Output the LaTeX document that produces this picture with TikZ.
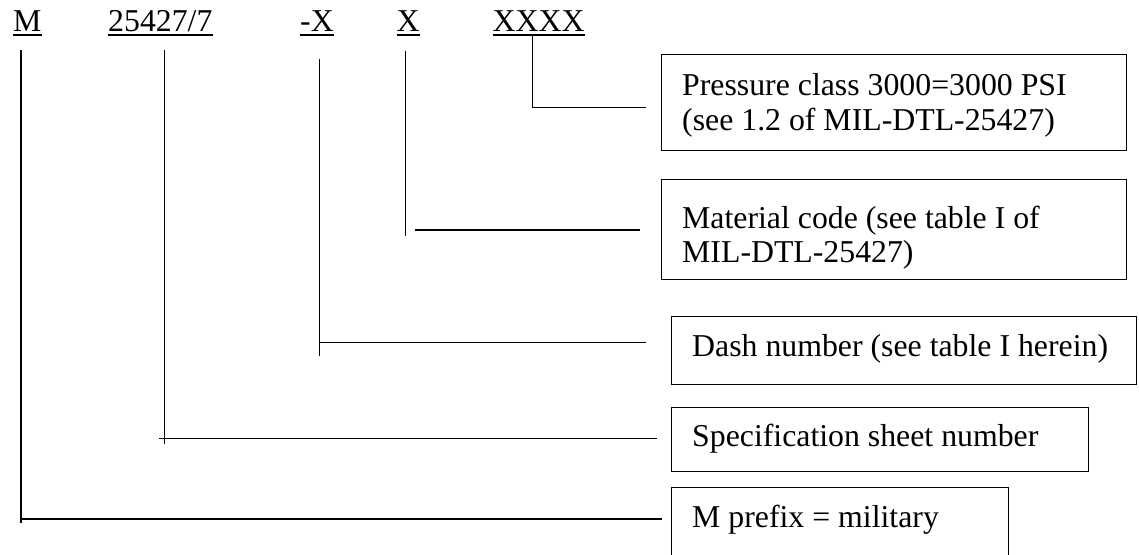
\documentclass[tikz,border=0pt]{standalone}
\usepackage{fontspec}
\setmainfont{Liberation Serif}
\usetikzlibrary{calc}
\begin{document}
\begin{tikzpicture}[x=1pt,y=-1pt,
  conn/.style={line width=1.5pt},
  uline/.style={line width=1.5pt},
  box/.style={draw,line width=1.4pt,rectangle,inner sep=0pt,anchor=north west},
  txt/.style={inner sep=0pt,anchor=base west,font=\fontsize{31.8}{34.5}\selectfont},
  lbl/.style={txt}]
\useasboundingbox (0,0) rectangle (1139,554);
% top labels
\node[lbl] (lM) at (13,31.7) {M};
\node[lbl] (lS) at (108,31.7) {25427/7};
\node[lbl] (lD) at (300,31.7) {-X};
\node[lbl] (lX) at (396.5,31.7) {X};
\node[lbl] (lP) at (492.5,31.7) {XXXX};
\foreach \n in {lM,lS,lD,lX,lP}
  \draw[uline] ($(\n.base west)+(0,3.3)$) -- ($(\n.base east)+(0,3.3)$);
% boxes
\node[box,minimum width=465pt,minimum height=96pt] (bP) at (661,54) {};
\node[box,minimum width=465pt,minimum height=100pt] (bMat) at (661,179) {};
\node[box,minimum width=465pt,minimum height=68pt] (bD) at (671,315.5) {};
\node[box,minimum width=417pt,minimum height=64pt] (bS) at (671,406.5) {};
\node[box,minimum width=337pt,minimum height=120pt] (bMP) at (671,486.7) {};
% texts
\node[txt] (tP1) at ($(bP.north west)+(21,41)$) {Pressure class 3000=3000 PSI};
\node[txt] (tP2) at ($(tP1.base west)+(0,35)$) {(see 1.2 of MIL-DTL-25427)};
\node[txt] (tM1) at ($(bMat.north west)+(21,49.5)$) {Material code (see table I of};
\node[txt] (tM2) at ($(tM1.base west)+(0,34)$) {MIL-DTL-25427)};
\node[txt] (tD) at ($(bD.north west)+(21,40.5)$) {Dash number (see table I herein)};
\node[txt] (tS) at ($(bS.north west)+(21,39.5)$) {Specification sheet number};
\node[txt] (tMP) at ($(bMP.north west)+(21,40.3)$) {M prefix = military};
% connector coordinates
\coordinate (mT) at (21,50);      \coordinate (mB) at (21,523.3);
\coordinate (mH) at (21,519);     \coordinate (mE) at ($(bMP.north west)+(-9.3,32.3)$);
\coordinate (sT) at (164.5,50);   \coordinate (sB) at (164.5,443.5);
\coordinate (sH) at (159,438.3);  \coordinate (sE) at ($(bS.north west)+(-14,31.8)$);
\coordinate (dT) at (319.7,59);   \coordinate (dB) at (319.7,355.7);
\coordinate (dH) at (319.7,342.3);\coordinate (dE) at ($(bD.north west)+(-25,26.8)$);
\coordinate (xT) at (405.3,50.7); \coordinate (xB) at (405.3,236);
\coordinate (xH) at (415,230);    \coordinate (xE) at ($(bMat.north west)+(-21,51)$);
\coordinate (pT) at (532.7,35);   \coordinate (pC) at (532.7,107.3);
\coordinate (pE) at ($(bP.north west)+(-15.3,53.3)$);
% connectors
\draw[conn] (mT) -- (mB);
\draw[conn] (mH) -- (mE);
\draw[conn] (sT) -- (sB);
\draw[conn] (sH) -- (sE);
\draw[conn] (dT) -- (dB);
\draw[conn] (dH) -- (dE);
\draw[conn] (xT) -- (xB);
\draw[conn] (xH) -- (xE);
\draw[conn] (pT) -- (pC) -- (pE);
\end{tikzpicture}
\end{document}
